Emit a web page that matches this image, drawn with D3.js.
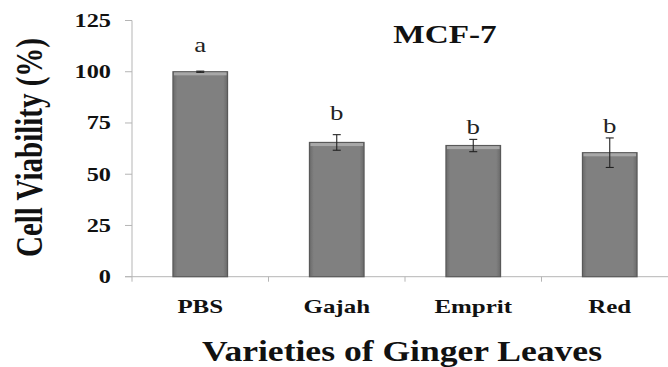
<!DOCTYPE html>
<html>
<head>
<meta charset="utf-8">
<script src="https://cdn.jsdelivr.net/npm/d3@7"></script>
<style>
  body { margin: 0; background: #fff; }
  text { font-family: "Liberation Serif", "Times New Roman", serif; }
</style>
</head>
<body>
<svg id="chart" width="668" height="367"></svg>
<script>
// données
const categories = ['PBS', 'Gajah', 'Emprit', 'Red'];
const viability = [100, 65.5, 64, 60.5];
const errors = [0.3, 3.8, 3, 7.2];
const letters = ['a', 'b', 'b', 'b'];
const letterAt = [109.6, 76.4, 69.8, 70.1]; // hauteur des lettres (en %)
const yTicks = [0, 25, 50, 75, 100, 125];

const svg = d3.select('#chart');
const stretch = 1.28; // le texte est étiré horizontalement dans l'image

const x = d3.scaleBand()
    .domain(categories)
    .range([132, 678])
    .paddingInner(0.6)
    .paddingOuter(0.3);

const y = d3.scaleLinear()
    .domain([0, 125])
    .range([276.7, 20.5]);

// axe Y
svg.append('line')
    .attr('x1', 132).attr('x2', 132)
    .attr('y1', y(125)).attr('y2', y(0))
    .attr('stroke', '#b5b5b5').attr('stroke-width', 1);

const yg = svg.append('g').selectAll('g')
    .data(yTicks)
    .enter().append('g')
    .attr('transform', d => `translate(0,${y(d)})`);

yg.append('line')
    .attr('x1', 125).attr('x2', 132)
    .attr('stroke', '#b5b5b5');

yg.append('text')
    .attr('transform', `translate(111,0) scale(${stretch},1)`)
    .attr('text-anchor', 'end')
    .attr('dy', '0.34em')
    .attr('font-size', 19)
    .attr('font-weight', 'bold')
    .attr('fill', '#111')
    .text(d => d);

// axe X
svg.append('line')
    .attr('x1', 125).attr('x2', 678)
    .attr('y1', y(0)).attr('y2', y(0))
    .attr('stroke', '#b5b5b5');

const step = x.step();
const bounds = d3.range(categories.length + 1).map(i => x.range()[0] + i * step);
svg.append('g').selectAll('line')
    .data(bounds)
    .enter().append('line')
    .attr('x1', d => d).attr('x2', d => d)
    .attr('y1', y(0)).attr('y2', y(0) + 5)
    .attr('stroke', '#b5b5b5');

svg.append('g').selectAll('text')
    .data(categories)
    .enter().append('text')
    .attr('transform', d => `translate(${x(d) + x.bandwidth() / 2},313) scale(${stretch},1)`)
    .attr('text-anchor', 'middle')
    .attr('font-size', 19.5)
    .attr('font-weight', 'bold')
    .attr('fill', '#111')
    .text(d => d);

// barres
const data = categories.map((c, i) => ({ c, v: viability[i], e: errors[i], l: letters[i], la: letterAt[i] }));

const defs = svg.append('defs');
const grad = defs.append('linearGradient')
    .attr('id', 'barGrad')
    .attr('x1', 0).attr('x2', 1).attr('y1', 0).attr('y2', 0);
grad.selectAll('stop')
    .data([
        { o: '0%', c: '#6a6a6a' },
        { o: '8%', c: '#808080' },
        { o: '92%', c: '#808080' },
        { o: '100%', c: '#6a6a6a' }
    ])
    .enter().append('stop')
    .attr('offset', d => d.o)
    .attr('stop-color', d => d.c);

const bars = svg.append('g');
bars.selectAll('rect.bar')
    .data(data)
    .enter().append('rect')
    .attr('class', 'bar')
    .attr('x', d => x(d.c))
    .attr('y', d => y(d.v))
    .attr('width', x.bandwidth())
    .attr('height', d => y(0) - y(d.v))
    .attr('fill', 'url(#barGrad)')
    .attr('stroke', '#595959')
    .attr('stroke-width', 1.2);

// petit reflet en haut des barres
bars.selectAll('rect.top')
    .data(data)
    .enter().append('rect')
    .attr('class', 'top')
    .attr('x', d => x(d.c) + 1)
    .attr('y', d => y(d.v) + 0.6)
    .attr('width', x.bandwidth() - 2)
    .attr('height', 3)
    .attr('fill', '#a8a8a8');

// barres d'erreur
const eb = svg.append('g')
    .attr('stroke', '#222')
    .attr('stroke-width', 1.1);
data.forEach(d => {
    const cx = x(d.c) + x.bandwidth() / 2;
    eb.append('line').attr('x1', cx).attr('x2', cx).attr('y1', y(d.v + d.e)).attr('y2', y(d.v - d.e));
    eb.append('line').attr('x1', cx - 4).attr('x2', cx + 4).attr('y1', y(d.v + d.e)).attr('y2', y(d.v + d.e));
    eb.append('line').attr('x1', cx - 4).attr('x2', cx + 4).attr('y1', y(d.v - d.e)).attr('y2', y(d.v - d.e));
});

// lettres de significativité
svg.append('g').selectAll('text')
    .data(data)
    .enter().append('text')
    .attr('transform', d => `translate(${x(d.c) + x.bandwidth() / 2},${y(d.la)}) scale(${stretch},1)`)
    .attr('text-anchor', 'middle')
    .attr('font-size', 21)
    .attr('fill', '#222')
    .text(d => d.l);

// titre
svg.append('text')
    .attr('transform', `translate(445,43) scale(${stretch},1)`)
    .attr('text-anchor', 'middle')
    .attr('font-size', 26)
    .attr('font-weight', 'bold')
    .attr('fill', '#111')
    .text('MCF-7');

// titres des axes
svg.append('text')
    .attr('transform', 'translate(402,361)')
    .attr('text-anchor', 'middle')
    .attr('font-size', 29)
    .attr('font-weight', 'bold')
    .attr('fill', '#111')
    .attr('textLength', 400)
    .attr('lengthAdjust', 'spacingAndGlyphs')
    .text('Varieties of Ginger Leaves');

svg.append('text')
    .attr('transform', `translate(42,147.5) scale(${stretch},1) rotate(-90)`)
    .attr('text-anchor', 'middle')
    .attr('font-size', 29)
    .attr('font-weight', 'bold')
    .attr('fill', '#111')
    .text('Cell Viability (%)');
</script>
</body>
</html>
